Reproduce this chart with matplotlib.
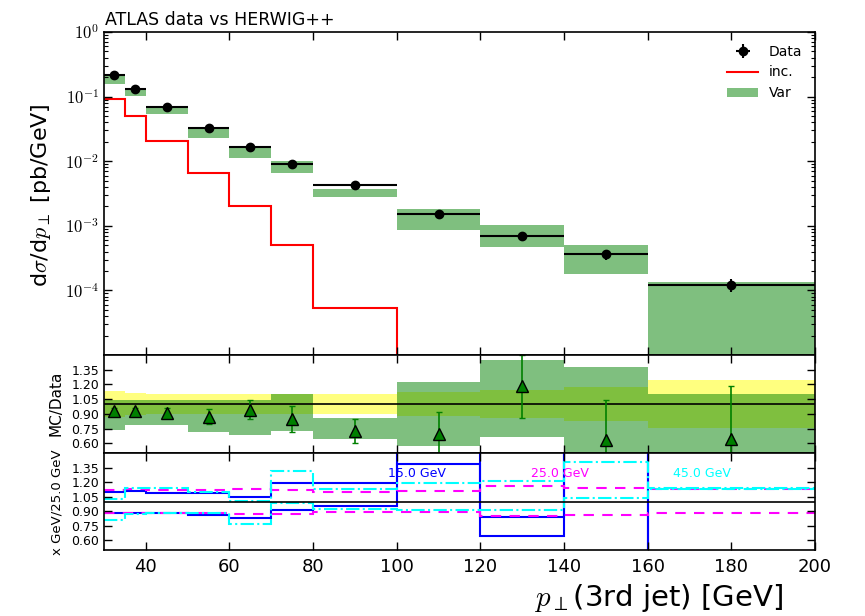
import numpy as np
import matplotlib.pyplot as plt
from matplotlib.ticker import FixedLocator, LogLocator, NullFormatter

plt.rcParams["font.family"] = "DejaVu Sans"
plt.rcParams["mathtext.fontset"] = "cm"
plt.rcParams["axes.linewidth"] = 1.2

# bin edges of pT(3rd jet) in GeV
edges = np.array([30, 35, 40, 50, 60, 70, 80, 100, 120, 140, 160, 200])

# measured cross section and its relative uncertainty
data_val = np.array([0.215, 0.129, 0.0687, 0.0321, 0.0165, 0.00908,
                     0.00434, 0.00151, 0.000704, 0.000362, 0.000123])
data_rel_err = np.array([0.135, 0.115, 0.105, 0.10, 0.10, 0.10,
                         0.10, 0.123, 0.14, 0.176, 0.24])

# inclusive prediction (empty above 100 GeV)
inc_val = np.array([0.0925, 0.0499, 0.0206, 0.00652, 0.00203, 0.000499,
                    5.32e-5, 1e-9, 1e-9, 1e-9, 1e-9])

# variation envelope
var_hi = np.array([0.223, 0.134, 0.0713, 0.0333, 0.0171, 0.0100,
                   0.00372, 0.00185, 0.00102, 0.000499, 0.000135])
var_lo = np.array([0.158, 0.102, 0.0542, 0.0230, 0.0113, 0.00659,
                   0.00280, 0.000861, 0.000470, 0.000177, 5.0e-6])

# MC/Data points
ratio_pts = np.array([0.926, 0.926, 0.909, 0.868, 0.943, 0.851,
                      0.725, 0.69, 1.18, 0.63, 0.64])
ratio_err = np.array([0.03, 0.03, 0.05, 0.076, 0.10, 0.133,
                      0.127, 0.23, 0.32, 0.414, 0.546])

# scale-variation ratios to the 25 GeV sample
blue_up = np.array([1.10, 1.105, 1.09, 1.09, 1.05, 1.19, 1.19, 1.39, 0.84, 1.8, 0.0])
blue_dn = np.array([0.88, 0.885, 0.88, 0.865, 0.835, 0.91, 0.955, 1.8, 0.64, 1.8, 0.0])
magenta_up = np.array([1.115, 1.125, 1.12, 1.12, 1.13, 1.12, 1.10, 1.11, 1.155, 1.14, 1.127])
magenta_dn = np.array([0.885, 0.885, 0.885, 0.88, 0.868, 0.868, 0.895, 0.889, 0.847, 0.864, 0.877])
cyan_up = np.array([1.025, 1.14, 1.143, 1.10, 1.01, 1.315, 1.126, 1.188, 1.215, 1.403, 1.135])
cyan_dn = np.array([0.806, 0.867, 0.88, 0.88, 0.765, 0.983, 0.925, 0.908, 0.915, 1.035, 1.128])

centres = 0.5 * (edges[1:] + edges[:-1])
half = 0.5 * np.diff(edges)

fig = plt.figure(figsize=(8.65, 6.16), dpi=100)
L, W = 104 / 865, 711 / 865
ax = fig.add_axes([L, 1 - 355 / 616, W, 323 / 616])
axr = fig.add_axes([L, 1 - 453 / 616, W, 98 / 616], sharex=ax)
axs = fig.add_axes([L, 1 - 550 / 616, W, 97 / 616], sharex=ax)

# --- main panel ---
h_var = ax.stairs(var_hi, edges, baseline=var_lo, fill=True, color="green",
                  alpha=0.5, lw=0, label="Var")
h_inc = ax.stairs(inc_val, edges, baseline=None, color="red", lw=1.5, label="inc.")
h_dat = ax.errorbar(centres, data_val, xerr=half, yerr=data_val * data_rel_err,
                    fmt="o", color="black", ms=6, lw=1.5, capsize=0, label="Data")
ax.set_yscale("log")
ax.set_ylim(1e-5, 1)
ax.set_xlim(30, 200)
ax.yaxis.set_major_locator(FixedLocator([1e-4, 1e-3, 1e-2, 1e-1, 1]))
ax.set_yticklabels([r"$10^{-4}$", r"$10^{-3}$", r"$10^{-2}$", r"$10^{-1}$", r"$10^{0}$"],
                   fontsize=12)
ax.yaxis.set_minor_locator(LogLocator(subs=np.arange(2, 10), numticks=20))
ax.yaxis.set_minor_formatter(NullFormatter())
ax.legend(handles=[h_dat, h_inc, h_var], loc="upper right", frameon=False,
          fontsize=10, handlelength=2.2, handletextpad=0.8)

# --- MC/Data panel ---
axr.stairs(1 + data_rel_err, edges, baseline=1 - data_rel_err, fill=True,
           color="yellow", alpha=0.5, lw=0)
axr.stairs(var_hi / data_val, edges, baseline=var_lo / data_val, fill=True,
           color="green", alpha=0.5, lw=0)
axr.axhline(1.0, color="black", lw=1.2)
axr.errorbar(centres, ratio_pts, yerr=ratio_err, fmt="^", color="green",
             mfc="green", mec="black", ms=8, lw=1.2, capsize=2)

# --- scale-variation panel ---
for up, dn, col, ls in [(blue_up, blue_dn, "blue", "-"),
                        (magenta_up, magenta_dn, "magenta", (0, (5, 4))),
                        (cyan_up, cyan_dn, "cyan", "-.")]:
    axs.stairs(up, edges, baseline=None, color=col, ls=ls, lw=1.5)
    axs.stairs(dn, edges, baseline=None, color=col, ls=ls, lw=1.5)
axs.axhline(1.0, color="black", lw=1.2)
axs.text(0.4, 0.79, "15.0 GeV", transform=axs.transAxes, color="blue",
         fontsize=9, va="center", ha="left")
axs.text(0.6, 0.79, "25.0 GeV", transform=axs.transAxes, color="magenta",
         fontsize=9, va="center", ha="left")
axs.text(0.8, 0.79, "45.0 GeV", transform=axs.transAxes, color="cyan",
         fontsize=9, va="center", ha="left")

rticks = [0.60, 0.75, 0.90, 1.05, 1.20, 1.35]
for a in (axr, axs):
    a.set_ylim(0.5, 1.5)
    a.set_yticks(rticks)
    a.set_yticklabels([f"{t:.2f}" for t in rticks], fontsize=9)

for a in (ax, axr, axs):
    a.tick_params(which="both", direction="in", top=True, right=True)
    a.tick_params(which="major", length=6, width=1)
    a.tick_params(which="minor", length=3, width=0.8)
ax.tick_params(labelbottom=False)
axr.tick_params(labelbottom=False)
axs.set_xticks([40, 60, 80, 100, 120, 140, 160, 180, 200])
axs.tick_params(axis="x", labelsize=13, pad=6)

fig.text(105 / 865, 1 - 25 / 616, "ATLAS data vs HERWIG++", fontsize=12.5,
         ha="left", va="baseline")
fig.text(41 / 865, 1 - 195 / 616, r"d$\sigma$/d$p_\perp$ [pb/GeV]", fontsize=16,
         rotation=90, ha="center", va="center")
fig.text(56 / 865, 1 - 403 / 616, "MC/Data", fontsize=11,
         rotation=90, ha="center", va="center")
fig.text(57 / 865, 1 - 502 / 616, "x GeV/25.0 GeV", fontsize=9.5,
         rotation=90, ha="center", va="center")
fig.text(659 / 865, 1 - 598 / 616, r"$p_\perp$(3rd jet) [GeV]", fontsize=21,
         ha="center", va="center")

fig.savefig("out.png", dpi=100)
